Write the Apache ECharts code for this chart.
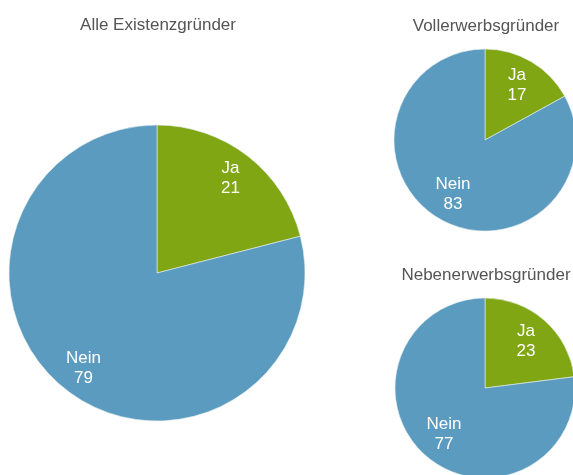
<!DOCTYPE html>
<html><head><meta charset="utf-8">
<script src="https://cdn.jsdelivr.net/npm/echarts@6/dist/echarts.min.js"></script>
<style>html,body{margin:0;padding:0;background:#fff}#c{width:573px;height:475px}</style>
</head><body><div id="c"></div>
<script>
const categories = ['Ja', 'Nein'];
const titles = ['Alle Existenzgründer', 'Vollerwerbsgründer', 'Nebenerwerbsgründer'];
const valuesAlle = [21, 79];
const valuesVoll = [17, 83];
const valuesNeben = [23, 77];

const colors = ['#80a614', '#5b9bbf'];
const font = 'Liberation Sans, Arial, sans-serif';

function mk(vals) { return categories.map((c, i) => ({ name: c, value: vals[i] })); }

const pies = [
  { vals: valuesAlle, center: [157, 273], r: 148, tx: 153, ty: 12 },
  { vals: valuesVoll, center: [485, 140], r: 91, tx: 481, ty: 13 },
  { vals: valuesNeben, center: [485, 388], r: 90, tx: 481, ty: 262 }
];

const series = [];
pies.forEach(p => {
  series.push({
    type: 'pie', center: p.center, radius: [0, p.r], startAngle: 90, clockwise: true,
    silent: true, animation: false,
    itemStyle: { borderColor: '#e8eef0', borderWidth: 0.6 },
    label: { show: false }, labelLine: { show: false },
    data: mk(p.vals)
  });
  series.push({
    type: 'pie', center: p.center, radius: [p.r - 62, p.r], startAngle: 90, clockwise: true,
    silent: true, animation: false,
    itemStyle: { color: 'rgba(0,0,0,0)', borderWidth: 0 },
    label: { show: true, position: 'inside', formatter: '{b}\n{c}', color: '#fff',
      fontFamily: font, fontSize: 17, lineHeight: 20 },
    labelLine: { show: false },
    data: mk(p.vals)
  });
});

const chart = echarts.init(document.getElementById('c'), null, { renderer: 'canvas' });
chart.setOption({
  animation: false,
  color: colors,
  title: pies.map((p, i) => ({
    text: titles[i], left: p.tx, top: p.ty, textAlign: 'center',
    textStyle: { fontFamily: font, fontSize: 17, fontWeight: 'normal', color: '#555' }
  })),
  series: series
});
</script></body></html>
